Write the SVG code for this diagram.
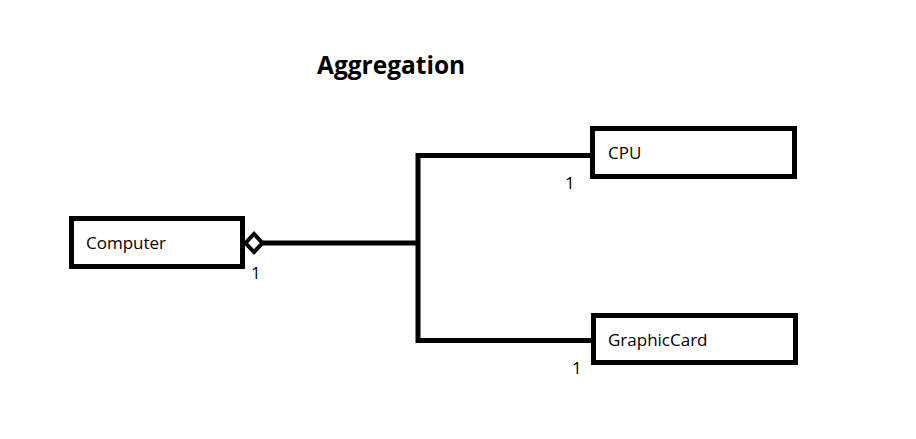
<svg xmlns="http://www.w3.org/2000/svg" width="916" height="439" viewBox="0 0 916 439">
<style>
.box{fill:#fff;stroke:#000;stroke-width:5}
.line{fill:none;stroke:#000;stroke-width:5}
.lbl{font-family:"Open Sans","Noto Sans",sans-serif;font-size:17px;fill:#000}
.title{font-family:"Open Sans","Noto Sans",sans-serif;font-size:24.5px;font-weight:bold;fill:#000}
</style>
<rect width="916" height="439" fill="#fff"/>
<text class="title" x="317" y="74">Aggregation</text>
<g id="connectors">
<polyline class="line" points="263,243 418,243"/>
<polyline class="line" points="592,155.5 418,155.5 418,340.5 593,340.5"/>
<polygon points="245.5,243 254,234 262.5,243 254,252" fill="#fff" stroke="#000" stroke-width="4"/>
<text class="lbl" x="251" y="279">1</text>
<text class="lbl" x="565" y="189">1</text>
<text class="lbl" x="572" y="374">1</text>
</g>
<g id="computer">
<rect class="box" x="71.5" y="218.5" width="171" height="48"/>
<text class="lbl" x="86" y="249">Computer</text>
</g>
<g id="cpu">
<rect class="box" x="592.5" y="128.5" width="202" height="48"/>
<text class="lbl" x="608" y="159">CPU</text>
</g>
<g id="graphiccard">
<rect class="box" x="593.5" y="315.5" width="202" height="47"/>
<text class="lbl" x="608" y="346">GraphicCard</text>
</g>
</svg>
